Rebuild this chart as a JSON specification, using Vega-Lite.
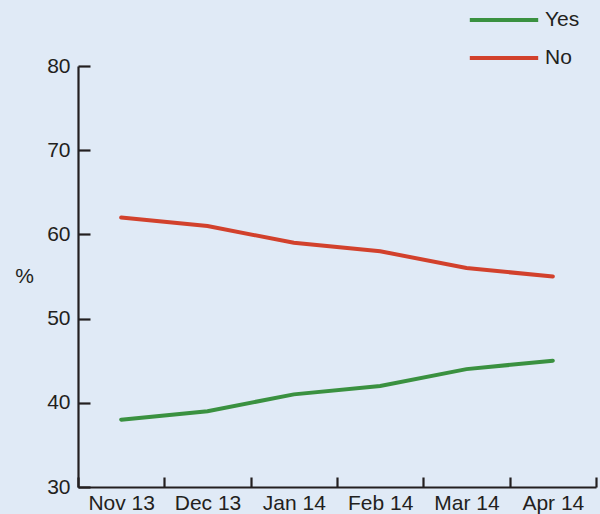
{
  "$schema": "https://vega.github.io/schema/vega-lite/v6.json",
  "width": 518,
  "height": 421,
  "autosize": {"type": "none"},
  "padding": {"left": 78, "top": 66, "right": 4, "bottom": 27},
  "background": "#e0eaf6",
  "config": {
    "view": {"stroke": null},
    "font": "Liberation Sans",
    "axis": {"labelFont": "Liberation Sans", "titleFont": "Liberation Sans", "labelColor": "#231f20", "titleColor": "#231f20", "domainColor": "#231f20", "tickColor": "#231f20", "domainWidth": 2.2, "tickWidth": 2.2, "grid": false, "labelFontSize": 21, "titleFontSize": 21}
  },
  "data": {
    "values": [
      {"month": "Nov 13", "series": "Yes", "value": 38},
      {"month": "Dec 13", "series": "Yes", "value": 39},
      {"month": "Jan 14", "series": "Yes", "value": 41},
      {"month": "Feb 14", "series": "Yes", "value": 42},
      {"month": "Mar 14", "series": "Yes", "value": 44},
      {"month": "Apr 14", "series": "Yes", "value": 45},
      {"month": "Nov 13", "series": "No", "value": 62},
      {"month": "Dec 13", "series": "No", "value": 61},
      {"month": "Jan 14", "series": "No", "value": 59},
      {"month": "Feb 14", "series": "No", "value": 58},
      {"month": "Mar 14", "series": "No", "value": 56},
      {"month": "Apr 14", "series": "No", "value": 55}
    ]
  },
  "mark": {"type": "line", "strokeWidth": 4, "strokeCap": "round"},
  "encoding": {
    "x": {
      "field": "month", "type": "ordinal", "sort": null,
      "scale": {"type": "band", "paddingInner": 0, "paddingOuter": 0},
      "axis": {"title": null, "labelAngle": 0, "tickBand": "extent", "tickSize": -10, "labelPadding": 15, "labelBaseline": "top"}
    },
    "y": {
      "field": "value", "type": "quantitative",
      "scale": {"domain": [30, 80], "nice": false, "zero": false},
      "axis": {"title": "%", "titleAngle": 0, "titleAlign": "center", "titleBaseline": "middle", "titleFontWeight": "normal", "titleX": -54, "titleY": 210, "values": [30, 40, 50, 60, 70, 80], "tickSize": -12, "labelPadding": 20}
    },
    "color": {
      "field": "series", "type": "nominal",
      "scale": {"domain": ["Yes", "No"], "range": ["#3a9140", "#d2412c"]},
      "legend": {"title": null, "orient": "none", "legendX": 405, "legendY": -67, "symbolType": "M-1.8,0H1.8", "symbolSize": 1444, "symbolStrokeWidth": 4, "symbolFillColor": "transparent", "labelFontSize": 21, "labelColor": "#231f20", "labelFont": "Liberation Sans", "rowPadding": 7, "labelOffset": 20}
    }
  }
}
